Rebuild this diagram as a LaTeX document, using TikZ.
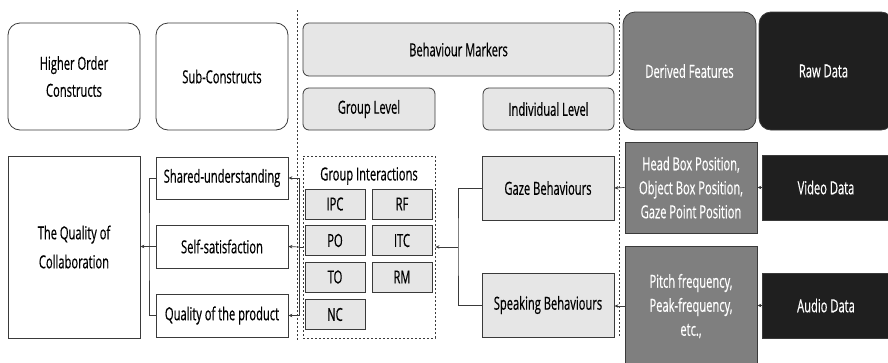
\documentclass[tikz,border=0pt]{standalone}
\usepackage{fontspec}
\setmainfont{Open Sans}[FakeStretch=0.62, FakeBold=0.5]
\usetikzlibrary{arrows.meta}
\definecolor{lightbox}{HTML}{E6E6E6}
\definecolor{midbox}{HTML}{7F7F7F}
\definecolor{darkbox}{HTML}{1F1F1F}
\definecolor{edge}{HTML}{3A3A3A}
\tikzset{
  base/.style={draw=edge, line width=0.8pt, inner sep=0pt, align=center,
    text=black, font=\fontsize{18}{24}\selectfont},
  headbox/.style={base, rounded corners=12pt, fill=white},
  markerbox/.style={base, rounded corners=6pt, fill=lightbox},
  plainbox/.style={base, fill=white},
  greybox/.style={base, fill=lightbox},
  featbox/.style={base, fill=midbox, text=white},
  rawbox/.style={base, fill=darkbox, text=white},
  divider/.style={draw=edge, line width=0.8pt, dash pattern=on 2pt off 2pt},
  link/.style={draw=edge, line width=0.7pt},
  arr/.style={link, -{Stealth[length=4pt,width=3.5pt]}},
}
\begin{document}
\begin{tikzpicture}[x=1pt,y=-1pt]
\useasboundingbox (0,0) rectangle (888,362);

% column headers
\node[headbox, minimum width=132pt, minimum height=107pt, font=\fontsize{18}{27}\selectfont] (hoc) at (74,76.5) {Higher Order\\Constructs};
\node[headbox, minimum width=132pt, minimum height=107pt] (sub) at (222,76.5) {Sub-Constructs};
\node[markerbox, minimum width=311pt, minimum height=53pt] (bm) at (458.5,49.5) {Behaviour Markers};
\node[markerbox, minimum width=132pt, minimum height=42pt] (gl) at (369,109) {Group Level};
\node[markerbox, minimum width=131pt, minimum height=42pt] (il) at (548.5,109) {Individual Level};
\node[featbox, rounded corners=12pt, minimum width=133pt, minimum height=118pt] (df) at (689.5,71) {Derived Features};
\node[rawbox, rounded corners=12pt, minimum width=134pt, minimum height=118pt] (rd) at (826,71) {\hspace*{-5pt}Raw Data};

% section dividers
\draw[divider] (297,10) -- (297,340);
\draw[divider] (619,10) -- (619,337);

% constructs
\node[plainbox, minimum width=132pt, minimum height=182pt, font=\fontsize{18}{29}\selectfont] (qoc) at (74,247) {The Quality of\\Collaboration};
\node[plainbox, minimum width=132pt, minimum height=42pt] (shared) at (222,178) {Shared-understanding};
\node[plainbox, minimum width=132pt, minimum height=43pt] (self) at (222,246.5) {Self-satisfaction};
\node[plainbox, minimum width=132pt, minimum height=43pt] (product) at (222,315.5) {Quality of the product};

% group interactions
\node[draw=edge, line width=0.8pt, dash pattern=on 2pt off 2pt, inner sep=0pt,
  minimum width=132pt, minimum height=182pt] (gi) at (369,247) {};
\node[base, draw=none] (gilabel) at (369,176) {Group Interactions};
\node[greybox, minimum width=60pt, minimum height=30pt] (ipc) at (335,204) {IPC};
\node[greybox, minimum width=60pt, minimum height=30pt] (rf) at (402,204) {RF};
\node[greybox, minimum width=60pt, minimum height=30pt] (po) at (335,240.5) {PO};
\node[greybox, minimum width=60pt, minimum height=30pt] (itc) at (402,240.5) {ITC};
\node[greybox, minimum width=60pt, minimum height=30pt] (to) at (335,277) {TO};
\node[greybox, minimum width=60pt, minimum height=30pt] (rm) at (402,277) {RM};
\node[greybox, minimum width=60pt, minimum height=30pt] (nc) at (335,314.5) {NC};

% individual behaviours
\node[greybox, minimum width=132pt, minimum height=64pt] (gaze) at (548,188) {Gaze Behaviours};
\node[greybox, minimum width=132pt, minimum height=64pt] (speak) at (548,305) {Speaking Behaviours};

% features and raw data
\node[featbox, minimum width=132pt, minimum height=91pt] (head) at (691,187.5) {Head Box Position,\\Object Box Position,\\Gaze Point Position};
\node[featbox, minimum width=132pt, minimum height=120pt] (pitch) at (691,306) {Pitch frequency,\\Peak-frequency,\\etc.,};
\node[rawbox, minimum width=130pt, minimum height=65pt] (video) at (827,187.5) {\hspace*{-2pt}Video Data};
\node[rawbox, minimum width=130pt, minimum height=65pt] (audio) at (827,305.5) {\hspace*{-2pt}Audio Data};

% junction points
\coordinate (jL) at (149,246.5);
\coordinate (jR) at (299,247);
\coordinate (jB) at (458,247);

% connectors
\draw[link] (shared.west) -| (jL) |- (product.west);
\draw[arr] (self.west) -- (qoc.east |- self.west);
\draw[link] (gi.west) -- (jR);
\draw[arr] (jR) |- (shared.east);
\draw[arr] (jR) -- (self.east);
\draw[arr] (jR) |- (product.east);
\draw[link] (gaze.west) -| (jB) |- (speak.west);
\draw[arr] (jB) -- (gi.east);
\draw[arr] (head.west) -- (gaze.east);
\draw[arr] (pitch.west) -- (speak.east |- pitch.west);
\draw[arr] (video.west) -- (head.east);
\draw[arr] (audio.west) -- (pitch.east |- audio.west);
\end{tikzpicture}
\end{document}
